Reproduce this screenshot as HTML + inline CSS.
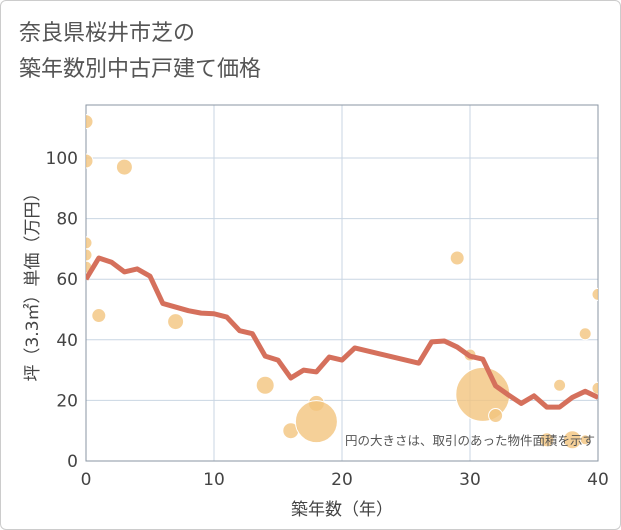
<!DOCTYPE html>
<html><head><meta charset="utf-8"><style>
body{margin:0;background:#fff;font-family:"DejaVu Sans","Noto Sans CJK JP",sans-serif;}
#wrap{position:relative;width:619px;height:528px;border:1px solid #ccc;border-radius:6px;overflow:hidden;}
.t{position:absolute;left:18px;font-size:22px;color:#555;font-family:"Noto Sans CJK JP",sans-serif;}
</style></head><body>
<div id="wrap">
<div class="t" style="top:14px">奈良県桜井市芝の</div>
<div class="t" style="top:50px">築年数別中古戸建て価格</div>
<svg id="chart" width="621" height="530" style="position:absolute;left:0;top:0"><defs><clipPath id="pc"><rect x="85" y="104" width="512" height="356"/></clipPath></defs></svg>
</div>
<script>
const lineYears=[0,1,2,3,4,5,6,7,8,9,10,11,12,13,14,15,16,17,18,19,20,21,26,27,28,29,30,31,32,33,34,35,36,37,38,39,40];
const lineValues=[60,67,65.6,62.4,63.4,61,52,50.8,49.6,48.8,48.6,47.5,43,42,34.6,33.3,27.4,30,29.4,34.3,33.3,37.3,32.3,39.3,39.6,37.6,34.6,33.6,24.8,21.8,19,21.5,17.8,17.8,21,23,21];
const bubbleYears=[0,0,3,0,0,0,1,7,14,16,18,18,29,30,31,32,37,39,40,40,36,38,39];
const bubbleValues=[112,99,97,72,68,64,48,46,25,10,19,13,67,35,22,15,25,42,55,24,7,7,7];
const bubbleSizes=[7,7,8,6,6,6,7,8,9,8,8,21,7,6,27,7,6,6,6,6,7,9,5];
const xTicks=[0,10,20,30,40];
const yTicks=[0,20,40,60,80,100];
const L=85,R=597,T=104,B=460;
const xs=v=>L+(R-L)*v/40, ys=v=>B-(B-157)*v/100;
const svg=document.getElementById('chart');const NS='http://www.w3.org/2000/svg';
function mk(t,a,p){const e=document.createElementNS(NS,t);for(const k in a)e.setAttribute(k,a[k]);(p||svg).appendChild(e);return e;}
xTicks.forEach(v=>{const e=mk('line',{x1:xs(v),x2:xs(v),y1:T,y2:B,stroke:'#c9d6e3','stroke-width':1});

const t=mk('text',{x:xs(v),y:B+24,'text-anchor':'middle','font-size':17,fill:'#444'});t.textContent=v;
});
yTicks.forEach(v=>{const e=mk('line',{x1:L,x2:R,y1:ys(v),y2:ys(v),stroke:'#c9d6e3','stroke-width':1});

const t=mk('text',{x:L-8,y:ys(v)+6,'text-anchor':'end','font-size':17,fill:'#444'});t.textContent=v;
});
const fr=mk('rect',{x:L,y:T,width:R-L,height:B-T,fill:'none',stroke:'#8a96a3','stroke-width':1});

const g=mk('g',{'clip-path':'url(#pc)'});
bubbleYears.forEach((y,i)=>{const c=mk('circle',{cx:xs(y),cy:ys(bubbleValues[i]),r:bubbleSizes[i],fill:'#f3c47e','fill-opacity':0.8,stroke:'#fff','stroke-width':1},g);
});
const pl=mk('polyline',{points:lineYears.map((y,i)=>xs(y)+','+ys(lineValues[i])).join(' '),fill:'none',stroke:'#d5705c','stroke-width':5,'stroke-linejoin':'round'},g);

const n=mk('text',{x:594,y:444,'text-anchor':'end','font-size':12.5,fill:'#555','font-family':'Noto Sans CJK JP, sans-serif'});n.textContent='円の大きさは、取引のあった物件面積を示す';

const xt=mk('text',{x:(L+R)/2,y:514,'text-anchor':'middle','font-size':17,fill:'#444'});xt.textContent='築年数（年）';

const yt=mk('text',{x:0,y:0,'text-anchor':'middle','font-size':17,fill:'#444',transform:'translate(37,'+((T+B)/2)+') rotate(-90)'});yt.textContent='坪（3.3㎡）単価（万円）';

</script></body></html>
